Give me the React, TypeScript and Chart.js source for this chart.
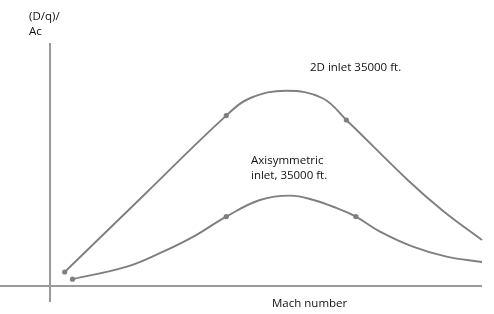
import React, { useEffect, useRef } from "react";
import { Chart, registerables } from "chart.js";

Chart.register(...registerables);

// Mach number (arbitrary chart units) and (D/q)/Ac values
const inlet2dMach = [0.17, 1.1, 2.04, 2.32, 2.73, 3.15, 3.43, 4.14, 4.55, 5.0];
const inlet2dDrag = [0.07, 0.46, 0.852, 0.94, 0.976, 0.94, 0.83, 0.53, 0.375, 0.23];
const inlet2dMarked = [0, 2, 6];

const axiMach = [0.26, 0.89, 1.27, 1.66, 2.04, 2.43, 2.78, 3.05, 3.32, 3.54, 3.82, 4.2, 4.59, 5.0];
const axiDrag = [0.034, 0.097, 0.164, 0.247, 0.347, 0.43, 0.452, 0.43, 0.389, 0.347, 0.272, 0.197, 0.147, 0.12];
const axiMarked = [0, 4, 9];

const xMin = -0.579;
const xMax = 5.139;
const yMin = -0.14;
const yMax = 1.43;
const axisXEnd = 5.0;
const axisYTop = 1.215;
const axisYBottom = -0.08;

const CURVE = "#7f7f7f";
const AXIS = "#9a9a9a";

const axesPlugin = {
  id: "drawAxes",
  beforeDatasetsDraw(chart: any) {
    const { ctx, scales } = chart;
    const xs = scales.x;
    const ys = scales.y;
    ctx.save();
    ctx.strokeStyle = AXIS;
    ctx.lineWidth = 2;
    ctx.beginPath();
    ctx.moveTo(xs.getPixelForValue(xMin), ys.getPixelForValue(0));
    ctx.lineTo(xs.getPixelForValue(axisXEnd), ys.getPixelForValue(0));
    ctx.moveTo(xs.getPixelForValue(0), ys.getPixelForValue(axisYTop));
    ctx.lineTo(xs.getPixelForValue(0), ys.getPixelForValue(axisYBottom));
    ctx.stroke();
    ctx.restore();
  },
};

function toPoints(xs: number[], ys: number[]) {
  return xs.map((x, i) => ({ x, y: ys[i] }));
}

function radii(n: number, marked: number[]) {
  return Array.from({ length: n }, (_, i) => (marked.includes(i) ? 2.6 : 0));
}

export default function App() {
  const ref = useRef<HTMLCanvasElement | null>(null);

  useEffect(() => {
    if (!ref.current) return;
    const chart = new Chart(ref.current, {
      type: "line",
      data: {
        datasets: [
          {
            label: "2D inlet 35000 ft.",
            data: toPoints(inlet2dMach, inlet2dDrag),
            borderColor: CURVE,
            backgroundColor: CURVE,
            borderWidth: 1.9,
            pointRadius: radii(inlet2dMach.length, inlet2dMarked),
            pointBorderWidth: 0,
            tension: 0.4,
            fill: false,
            clip: false,
          },
          {
            label: "Axisymmetric inlet, 35000 ft.",
            data: toPoints(axiMach, axiDrag),
            borderColor: CURVE,
            backgroundColor: CURVE,
            borderWidth: 1.9,
            pointRadius: radii(axiMach.length, axiMarked),
            pointBorderWidth: 0,
            tension: 0.4,
            fill: false,
            clip: false,
          },
        ],
      },
      options: {
        animation: false,
        responsive: false,
        maintainAspectRatio: false,
        layout: { padding: 0, autoPadding: false },
        plugins: { legend: { display: false }, tooltip: { enabled: false } },
        scales: {
          x: { type: "linear", min: xMin, max: xMax, display: false },
          y: { type: "linear", min: yMin, max: yMax, display: false },
        },
      },
      plugins: [axesPlugin],
    });
    return () => chart.destroy();
  }, []);

  const label: React.CSSProperties = {
    position: "absolute",
    fontFamily: "'Open Sans', 'Noto Sans', sans-serif",
    fontSize: 11.5,
    lineHeight: "15px",
    color: "#111",
    whiteSpace: "nowrap",
  };

  return (
    <div style={{ position: "fixed", left: 0, top: 0, width: 494, height: 314, background: "#fff" }}>
      <canvas ref={ref} width={494} height={314} style={{ position: "absolute", left: 0, top: 0 }} />
      <div style={{ ...label, left: 29, top: 8 }}>(D/q)/<br />Ac</div>
      <div style={{ ...label, left: 310, top: 59 }}>2D inlet 35000 ft.</div>
      <div style={{ ...label, left: 251, top: 152 }}>Axisymmetric<br />inlet, 35000 ft.</div>
      <div style={{ ...label, left: 272, top: 295 }}>Mach number</div>
    </div>
  );
}
